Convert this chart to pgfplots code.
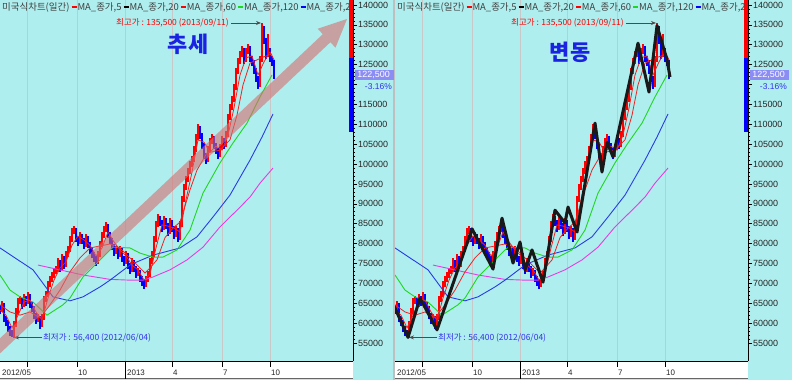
\documentclass[border=0pt]{standalone}
\usepackage{pgfplots}
\pgfplotsset{compat=1.18}
\usepackage{pgfplotstable}
\usepackage{fontspec}
\setmainfont{Liberation Sans}
\newfontfamily\kr{Noto Sans CJK KR}
\usetikzlibrary{arrows.meta}
\definecolor{bgc}{RGB}{175,238,238}
\definecolor{cred}{RGB}{255,0,0}
\definecolor{cblue}{RGB}{0,0,255}
\definecolor{mared}{RGB}{235,35,35}
\definecolor{magen}{RGB}{230,60,230}
\definecolor{mgreen}{RGB}{30,215,30}
\definecolor{mblue}{RGB}{40,60,230}
\definecolor{arrowc}{RGB}{215,110,110}
\definecolor{gridc}{RGB}{200,200,200}
\definecolor{boxc}{RGB}{140,140,245}
\definecolor{lowc}{RGB}{50,50,235}
\definecolor{titc}{RGB}{25,35,225}

\pgfplotstableread{
x y ep em
2 64600 1000 1800
14 59500 1000 3200
16 62800 1000 3800
18 65300 1000 3000
20 65800 1000 1000
24 66300 1000 2200
28 66800 1000 2000
38 61300 1000 1000
42 61300 1000 2300
44 65800 1000 5000
46 67100 1000 1800
48 69600 1000 3000
50 70800 1000 1700
52 71900 1000 1600
54 72900 1000 1500
56 73400 1000 1000
58 75400 1000 2500
62 76400 1000 3000
66 77100 1000 3000
68 78400 1000 1800
70 80900 1000 3000
72 82900 1000 2500
74 83400 1000 1000
80 81900 1000 2000
86 81400 1000 2300
98 77100 1000 2200
100 79600 1000 3000
102 81900 1000 2800
104 83400 1000 2000
106 84400 1000 1500
116 78400 1000 1000
120 78400 1000 1800
126 77100 1000 2200
132 75400 1000 2500
138 72900 1000 1000
146 70800 1000 1700
148 72100 1000 1800
150 75400 1000 3800
152 77100 1000 2200
154 80900 1000 4300
156 84700 1000 4300
158 86400 1000 2200
164 85900 1000 2500
170 85400 1000 3000
176 83400 1000 1700
180 84700 1000 3800
182 91000 1000 6800
184 94000 1000 3500
186 96000 1000 2500
188 98000 1000 2500
190 99800 1000 2300
192 101000 1000 1700
194 103500 1000 3000
196 106600 1000 3600
198 109100 1000 3000
208 103500 1000 3000
210 105500 1000 2500
212 106600 1000 1600
220 104000 1000 2200
222 106100 1000 2600
226 107300 1000 3000
228 111600 1000 4800
230 114100 1000 3000
232 116100 1000 2500
234 119100 1000 3500
236 123100 1000 4500
238 125700 1000 3100
240 127400 1000 2200
242 128700 1000 1800
246 128200 1000 2500
248 129200 1000 1500
260 126200 1000 6800
262 134200 1300 8500
268 128700 4000 1800
}\upc

\pgfplotstableread{
x y ep em
0 63300 1200 1000
4 61300 3800 1000
6 60300 1500 1000
8 58800 2000 1000
10 57800 1500 1000
12 56800 1500 400
22 64600 1700 1000
26 65300 1500 1000
30 64800 2500 1000
32 63800 1500 1000
34 62000 2300 1000
36 60800 1700 1000
40 59500 2300 1000
60 73900 2000 1000
64 74600 2300 1000
76 81400 2500 1000
78 80400 1500 1000
82 80900 1500 1000
84 79600 1800 1000
88 79900 2000 1000
90 78400 2000 1000
92 77400 1500 1000
94 76400 1500 1000
96 75400 1500 1000
108 82400 2500 1000
110 80900 2000 1000
112 79400 2000 1000
114 77900 2000 1000
118 77100 1800 1000
122 76400 2500 1000
124 75400 1500 1000
128 74600 3000 1000
130 73400 1700 1000
134 73900 2000 1000
136 72400 2000 1000
140 71300 2100 1000
142 70300 1500 1000
144 69600 1200 1000
160 85400 1500 1000
162 83900 2000 1000
166 84700 1700 1000
168 82900 2300 1000
172 83900 2000 1000
174 82200 2200 1000
178 81400 2500 1000
200 107300 2300 1000
202 104800 3000 1000
204 102300 3000 1000
206 101000 1800 1000
214 104800 2300 1000
216 103500 1800 1000
218 102300 1700 1000
224 104800 1800 1000
244 126200 3000 1000
250 126700 3000 1000
252 125700 1500 1000
254 123700 2500 1000
256 121600 2600 1000
258 119900 2200 1000
264 131200 3500 1000
266 127400 4300 1000
270 126700 2500 1000
272 125700 1500 1000
274 122500 3700 1000
}\dnc

\pgfplotsset{panel/.style={
  scale only axis, width=353bp, height=361bp,
  xmin=0, xmax=353, ymin=50470, ymax=141260,
  axis x line*=bottom, axis y line*=right,
  axis line style={black, line width=0.8bp},
  xtick={27,77,125,172,222,270}, xticklabels={},
  xmajorgrids, major x grid style={gridc, line width=0.8bp},
  x tick style={draw=none},
  ytick={55000,60000,65000,70000,75000,80000,85000,90000,95000,100000,105000,110000,115000,120000,125000,130000,135000,140000},
  yticklabels={55000,60000,65000,70000,75000,80000,85000,90000,95000,100000,105000,110000,115000,{},125000,130000,135000,140000},
  scaled y ticks=false,
  minor y tick num=4, tick align=outside,
  major tick length=4bp, minor tick length=2bp,
  y tick style={black, line width=0.6bp},
  yticklabel style={font=\fontsize{9}{9}\selectfont, text=black!85, inner sep=1bp, anchor=west},
  clip mode=individual,
}}

\newcommand\panelplots{%
  \addplot[cred, line width=4bp] coordinates {(351,141260) (351,126700)};
  \addplot[cblue, line width=4bp] coordinates {(351,126700) (351,108100)};
  \addplot[draw=none, mark=none, error bars/.cd, y dir=both, y explicit, error mark=none,
     error bar style={draw=cred, line width=1.8bp}] table[x=x,y=y,y error plus=ep,y error minus=em]{\upc};
  \addplot[draw=none, mark=none, error bars/.cd, y dir=both, y explicit, error mark=none,
     error bar style={draw=cblue, line width=1.8bp}] table[x=x,y=y,y error plus=ep,y error minus=em]{\dnc};
  \addplot[magen, line width=0.9bp] coordinates {(38,74600)(83,72100)(110,71000)(130,70800)(143,70800)(153,71600)(170,73400)(187,75900)(203,79100)(220,84200)(237,88400)(250,91700)(260,95200)(273,99000)};
  \addplot[mblue, line width=0.9bp] coordinates {(0,78900)(33,73400)(53,66600)(70,65600)(83,66600)(100,69100)(110,70800)(130,74600)(137,75400)(153,77100)(180,78900)(197,81700)(213,86700)(230,92200)(250,101000)(262,106800)(273,112600)};
  \addplot[mgreen, line width=0.9bp] coordinates {(0,72100)(10,68300)(20,66600)(33,65300)(47,62000)(63,64600)(70,66300)(83,71600)(100,75900)(113,79100)(130,78900)(140,77600)(153,76600)(163,76600)(177,78400)(190,83400)(203,92700)(220,100300)(233,105300)(247,110300)(260,116900)(272,122400)};
  \addplot[mared, line width=0.8bp] coordinates {(0,64600)(10,62800)(20,62000)(30,62800)(40,61300)(50,64600)(60,68300)(70,72900)(80,76400)(90,78900)(100,79400)(110,79900)(120,78900)(130,76400)(140,73900)(145,72600)(150,73900)(157,75900)(165,81500)(173,83900)(180,85400)(190,93500)(197,98500)(207,102800)(220,103500)(230,106100)(237,112300)(243,119900)(250,125400)(257,126200)(263,126900)(272,127700)};
  \addplot[mared, line width=0.8bp] coordinates {(0,63300)(6,62000)(12,58800)(18,62000)(24,65300)(30,65800)(36,62800)(42,60800)(48,66300)(54,70800)(60,73900)(66,75400)(72,79600)(78,81900)(84,80900)(90,79600)(96,76900)(102,78900)(108,82900)(114,80400)(120,78400)(126,76900)(132,74600)(138,73400)(144,70800)(150,72400)(156,78900)(162,84700)(168,84400)(174,83900)(180,82900)(186,91000)(192,98000)(198,106100)(204,105500)(210,103000)(216,104500)(222,103500)(228,107300)(234,114100)(240,122400)(246,126700)(252,127200)(258,122400)(264,125700)(270,128200)(274,126200)};
  \node[anchor=east, inner sep=0, text=cred, font=\kr\fontsize{8.5}{8.5}\selectfont] at (229,135480) {최고가 : 135,500 (2013/09/11)};
  \draw[black!70, line width=0.8bp, -{Stealth[length=5bp,width=4bp]}] (231,135480) -- (261,135480);
  \node[anchor=west, inner sep=0, text=lowc, font=\kr\fontsize{8.5}{8.5}\selectfont] at (43,56250) {최저가 : 56,400 (2012/06/04)};
  \draw[black!70, line width=0.8bp, -{Stealth[length=5bp,width=4bp]}] (42,56400) -- (14,56400);
}

\newcommand\lgd[1]{\hspace{2bp}\textcolor{#1}{\rule[0.22em]{5bp}{2.2bp}}\hspace{1bp}}
\newcommand\legendtext{%
  미국식차트(일간)\lgd{cred}MA\_종가,5\lgd{black}MA\_종가,20\lgd{cred}MA\_종가,60\lgd{mgreen}MA\_종가,120\lgd{cblue}MA\_종가,240}

\begin{document}
\begin{tikzpicture}[x=1bp,y=1bp]
\useasboundingbox (0,0) rectangle (792,380);
\fill[bgc] (0,0) rectangle (792,380);
% bottom strips
\foreach \ox in {0,395}{
  \fill[white] (\ox,1) rectangle (\ox+353,19);
  \draw[black!60, line width=0.8bp] (\ox,1.5) -- (\ox+353,1.5);
  \foreach \t in {27,77,172,222,270} \draw[black, line width=0.8bp] (\ox+\t,19) -- (\ox+\t,13);
  \draw[black, line width=0.8bp] (\ox+125,19) -- (\ox+125,1.5);
  \begin{scope}
  \clip (\ox,0) rectangle (\ox+353,19);
  \foreach \t/\l in {77/10,126/2013,172/4,222/7,270/10}
    \node[anchor=base west, inner sep=0, font=\fontsize{8}{8}\selectfont, text=black!85] at (\ox+\t+1,5) {\l};
  \node[anchor=base west, inner sep=0, font=\fontsize{8}{8}\selectfont, text=black!85] at (\ox+2,5) {2012/05};
  \end{scope}
}
\draw[black!25, line width=1.5bp] (394,0) -- (394,380);

\begin{axis}[panel, at={(0bp,19bp)}, anchor=south west]
  \panelplots
  \addplot[draw=none, fill=arrowc, fill opacity=0.6] coordinates {(-16.2,48532)(330.4,130647)(335.5,129263)(347,136481)(317.7,134042)(322.8,132659)(-23.8,50544)} -- cycle;
  \node[text=titc, font=\kr\bfseries\fontsize{22}{22}\selectfont, inner sep=0] at (188,130200) {추세};
\end{axis}

\begin{axis}[panel, at={(395bp,19bp)}, anchor=south west]
  \panelplots
  \addplot[black!90, line width=3bp, line join=round] coordinates {(0,63800)(13,56400)(25,66300)(42,58300)(77,83700)(98,73600)(107,86400)(118,75100)(125,80400)(130,73400)(137,78400)(148,70300)(160,88400)(170,85200)(173,89200)(182,82900)(200,110300)(207,98000)(212,105500)(218,101800)(243,130400)(254,118100)(262,134800)(272,126200)(275,121900)};
  \node[text=titc, font=\kr\bfseries\fontsize{22}{22}\selectfont, inner sep=0] at (175,128200) {변동};
\end{axis}

% legends (clipped at plot edge) and value box
\foreach \ox in {0,395}{
  \begin{scope}
  \clip (\ox,360) rectangle (\ox+349,380);
  \node[anchor=base west, inner sep=0, font=\kr\fontsize{9.5}{9.5}\selectfont, text=black!75] at (\ox+2,370) {\legendtext};
  \end{scope}
  \node[anchor=east, fill=boxc, text=white, inner sep=0, minimum width=39bp, minimum height=10bp, font=\fontsize{9}{9}\selectfont] at (\ox+394,305.5) {122,500\,};
  \node[anchor=east, inner sep=0, text=lowc, font=\fontsize{8.5}{8.5}\selectfont] at (\ox+392,293) {-3.16\%};
}
\end{tikzpicture}
\end{document}
